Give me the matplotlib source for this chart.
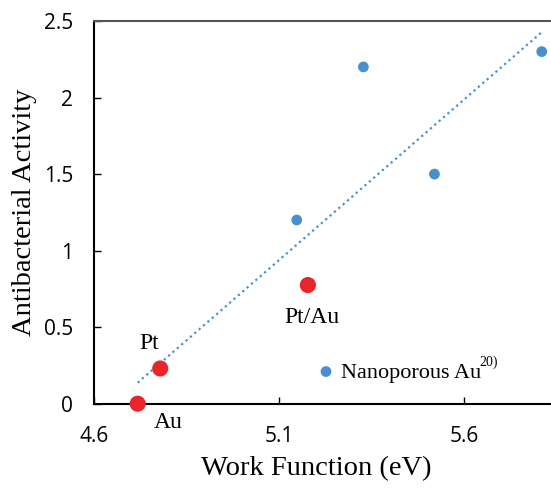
import numpy as np
import matplotlib
matplotlib.use("Agg")
from matplotlib import pyplot as plt

# work function (eV) vs antibacterial activity
ref_x = [5.148, 5.328, 5.52, 5.81]   # Nanoporous Au 20)
ref_y = [1.2, 2.2, 1.5, 2.3]
our_names = ["Au", "Pt", "Pt/Au"]
our_x = [4.718, 4.779, 5.178]
our_y = [0.0, 0.23, 0.775]

xticks = [4.6, 5.1, 5.6]
yticks = [0, 0.5, 1, 1.5, 2, 2.5]
yticklabels = ["0", "0.5", "1", "1.5", "2", "2.5"]

blue = "#4a8fcd"
red = "#e8262a"
serif = "Liberation Serif"

fig = plt.figure(figsize=(5.51, 4.93), dpi=100)
ax = fig.add_axes([94 / 551, 1 - 403.7 / 493, 1 - 94 / 551, (403.7 - 21) / 493])

# linear trendline over all points
all_x = np.array(ref_x + our_x)
all_y = np.array(ref_y + our_y)
k, b = np.polyfit(all_x, all_y, 1)
tx = np.array([all_x.min(), all_x.max()])
ax.plot(tx, k * tx + b, linestyle=(0, (1, 1.6)), color=blue, lw=1.6, zorder=2)

ax.scatter(ref_x, ref_y, s=60, color=blue, edgecolors="none", zorder=3, clip_on=False)
ax.scatter(our_x, our_y, s=135, color=red, edgecolors="none", zorder=4, clip_on=False)

ax.text(4.748, 0.39, "Pt", family=serif, fontsize=17, ha="center", va="center")
ax.text(4.8, -0.12, "Au", family=serif, fontsize=17, ha="center", va="center")
ax.text(5.19, 0.56, "Pt/Au", family=serif, fontsize=17, ha="center", va="center")

# legend built by hand like the original
ax.scatter([5.227], [0.21], s=60, color=blue, edgecolors="none", zorder=3)
ax.text(5.268, 0.2, "Nanoporous Au", family=serif, fontsize=16, ha="left", va="center")
ax.text(5.642, 0.272, "20)", family=serif, fontsize=10, ha="left", va="center")

ax.set_xlim(4.6, 5.835)
ax.set_ylim(0, 2.5)
ax.set_xticks(xticks)
ax.set_xticklabels([str(v) for v in xticks])
ax.set_yticks(yticks)
ax.set_yticklabels(yticklabels)
ax.tick_params(direction="in", length=5, width=1, labelsize=15, colors="black")
ax.tick_params(axis="x", pad=16)
ax.tick_params(axis="y", pad=15)
for t in ax.get_xticklabels() + ax.get_yticklabels():
    t.set_family("Open Sans")

ax.spines["right"].set_visible(False)
ax.spines["left"].set_linewidth(1.5)
ax.spines["bottom"].set_linewidth(1.5)
ax.spines["top"].set_linewidth(1.5)
ax.spines["top"].set_color("#555555")

fig.text(316 / 551, 1 - 469 / 493, "Work Function (eV)", family=serif, fontsize=20.5,
         ha="center", va="center")
fig.text(25 / 551, 1 - 212 / 493, "Antibacterial Activity", family=serif, fontsize=20.5,
         ha="center", va="center", rotation=90)

fig.savefig("out.png", dpi=100)
